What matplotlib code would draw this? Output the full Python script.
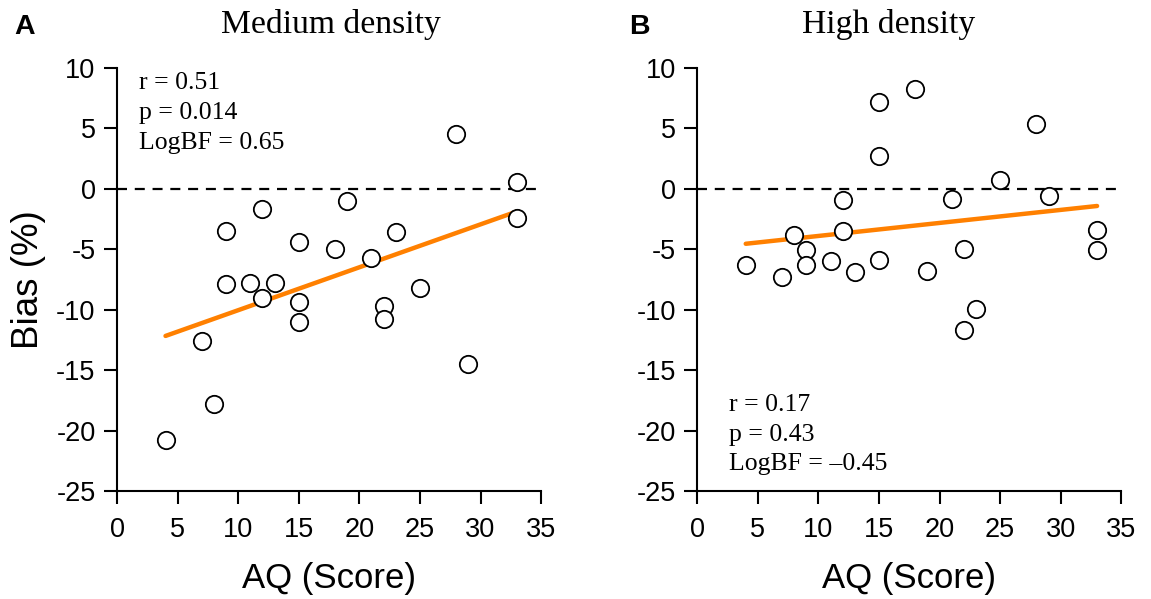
import numpy as np
import matplotlib
matplotlib.use("Agg")
import matplotlib.pyplot as plt

# AQ score vs bias
med_aq = [28, 33, 33, 9, 12, 15, 18, 19, 21, 23, 9, 11, 13, 12, 15, 15, 22, 22, 25, 7, 8, 4, 29]
med_bias = [4.5, 0.6, -2.4, -3.5, -1.7, -4.4, -5.0, -1.0, -5.7, -3.6, -7.9, -7.8, -7.8, -9.0,
            -9.4, -11.0, -9.7, -10.8, -8.2, -12.6, -17.8, -20.8, -14.5]

high_aq = [15, 18, 28, 15, 25, 12, 21, 29, 8, 12, 33, 9, 22, 33, 4, 9, 11, 15, 7, 13, 19, 23, 22]
high_bias = [7.2, 8.3, 5.4, 2.7, 0.7, -0.9, -0.8, -0.6, -3.8, -3.5, -3.4, -5.1, -5.0, -5.1,
             -6.3, -6.3, -6.0, -5.9, -7.3, -6.9, -6.8, -9.9, -11.7]

panels = ["A", "B"]
titles = ["Medium density", "High density"]
stats = [["r = 0.51", "p = 0.014", "LogBF = 0.65"],
         ["r = 0.17", "p = 0.43", "LogBF = \u20130.45"]]

xticks = [0, 5, 10, 15, 20, 25, 30, 35]
yticks = [10, 5, 0, -5, -10, -15, -20, -25]

SANS = "Liberation Sans"
SERIF = "Liberation Serif"

fig = plt.figure(figsize=(11.51, 5.99), dpi=100)
ax1 = fig.add_axes([0.1017, 0.1803, 0.3684, 0.7062])
ax2 = fig.add_axes([0.6058, 0.1803, 0.3684, 0.7062])

data = [(med_aq, med_bias), (high_aq, high_bias)]
stat_pos = [(1.85, [8.25, 5.75, 3.3]), (2.6, [-18.4, -20.85, -23.25])]
title_x = [331, 889]
letter_x = [14, 629]

for i, ax in enumerate([ax1, ax2]):
    x, y = data[i]
    ax.axhline(0, color="black", lw=1.6, ls=(0, (4.5, 3.5)), zorder=1)
    # least squares fit over the data range
    k, b = np.polyfit(x, y, 1)
    xs = np.array([min(x), max(x)])
    ax.plot(xs, k * xs + b, color="#ff8000", lw=3.2, solid_capstyle="round", zorder=2)
    ax.plot(x, y, "o", ms=12.5, mfc="white", mec="black", mew=1.3, zorder=3, clip_on=False)

    ax.set_xlim(0, 35)
    ax.set_ylim(-25, 10)
    ax.set_xticks(xticks)
    ax.set_yticks(yticks)
    ax.set_xticklabels([str(t) for t in xticks], family=SANS, fontsize=19.5)
    ax.set_yticklabels([str(t) for t in yticks], family=SANS, fontsize=19.5)
    ax.tick_params(direction="out", length=9.5, width=1.5, pad=6)
    ax.tick_params(axis="x", pad=9)
    for s in ["top", "right"]:
        ax.spines[s].set_visible(False)
    for s in ["left", "bottom"]:
        ax.spines[s].set_linewidth(1.5)
    ax.set_xlabel("AQ (Score)", family=SANS, fontsize=25, labelpad=14)

    sx, sys_ = stat_pos[i]
    for txt, yy in zip(stats[i], sys_):
        ax.text(sx, yy, txt, family=SERIF, fontsize=18.5, va="baseline", ha="left")

    fig.text(title_x[i] / 1151, 1 - 33.5 / 599, titles[i], family=SERIF, fontsize=24.2,
             ha="center", va="baseline")
    fig.text(letter_x[i] / 1151, 1 - 34.5 / 599, panels[i], family=SANS, fontsize=20.5,
             fontweight="bold", ha="left", va="baseline")

ax1.set_ylabel("Bias (%)", family=SANS, fontsize=26.5, labelpad=7)

fig.savefig("out.png", dpi=100)
